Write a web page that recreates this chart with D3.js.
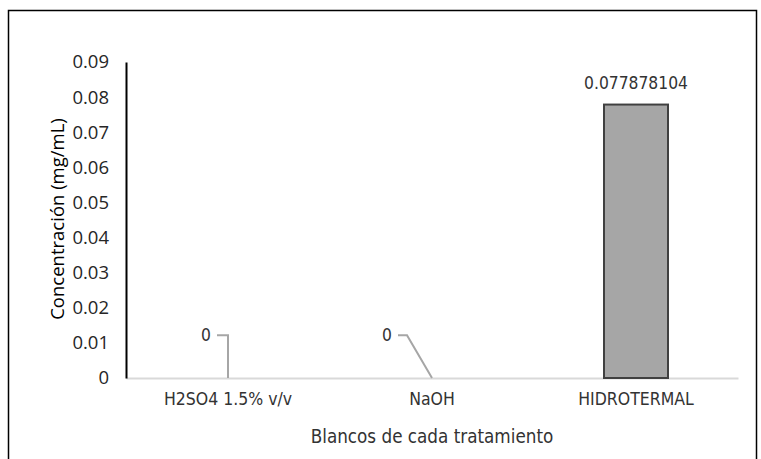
<!DOCTYPE html>
<html>
<head>
<meta charset="utf-8">
<script src="https://cdn.jsdelivr.net/npm/d3@7"></script>
<style>
body{margin:0;background:#fff}
</style>
</head>
<body>
<svg></svg>
<script>
const categories = ["H2SO4 1.5% v/v", "NaOH", "HIDROTERMAL"]
const values = [0, 0, 0.077878104]
const valueLabels = ["0", "0", "0.077878104"]
const yTicks = [0, 0.01, 0.02, 0.03, 0.04, 0.05, 0.06, 0.07, 0.08, 0.09]

const svgWidth = 761
const svgHeight = 459
const margins = {top:62, bottom:81, left:126, right:23}
const plotHeight = svgHeight - margins.top - margins.bottom
const plotWidth = svgWidth - margins.left - margins.right
const narrow = "'Liberation Sans Narrow','DejaVu Sans Condensed',sans-serif"

const svg = d3.select("svg")
.attr("width", svgWidth)
.attr("height", svgHeight)

// frame
svg.append("rect")
.attr("x",8.5).attr("y",10.5)
.attr("width",748).attr("height",460)
.attr("fill","none").attr("stroke","#000").attr("stroke-width",1.5)

const xScale = d3.scaleBand()
.domain(categories)
.range([0,plotWidth])

const yScale = d3.scaleLinear()
.domain([0,0.09])
.range([plotHeight,0])

const g = svg.append("g")
.attr("transform",`translate(${margins.left},${margins.top})`)

// x axis
const xAxis = g.append("g")
.attr("transform",`translate(0,${plotHeight})`)
.call(d3.axisBottom(xScale).tickSize(0).tickPadding(15))
xAxis.select(".domain").attr("stroke","#d9d9d9").attr("stroke-width",2)
xAxis.selectAll("text")
.attr("font-family",narrow).attr("font-size",17.5).attr("fill","#333")

// y axis
const yAxis = g.append("g")
.call(d3.axisLeft(yScale).tickValues(yTicks).tickSize(0).tickPadding(17)
  .tickFormat((d)=>{return d===0 ? "0" : d3.format(".2f")(d)}))
yAxis.select(".domain").attr("stroke","#000").attr("stroke-width",2)
yAxis.selectAll("text")
.attr("font-family","'Open Sans',sans-serif").attr("font-size",18.5).attr("fill","#262626")

// bars
g.selectAll("rect.bar")
.data(values)
.enter()
.append("rect")
.attr("class","bar")
.attr("x",(d,i)=>{return xScale(categories[i]) + xScale.bandwidth()/2 - 32})
.attr("y",(d)=>{return yScale(d)})
.attr("width",64)
.attr("height",(d)=>{return plotHeight - yScale(d)})
.attr("fill","#a6a6a6")
.attr("stroke","#404040")
.attr("stroke-width",2)
.style("display",(d)=>{return d>0 ? null : "none"})

// value labels
const labelOffsets = [{dx:-17},{dx:-40},{dx:0}]
valueLabels.forEach((lab,i)=>{
  const cx = xScale(categories[i]) + xScale.bandwidth()/2
  if (values[i] > 0){
    g.append("text")
    .attr("x",cx).attr("y",yScale(values[i]) - 16)
    .attr("text-anchor","middle")
    .attr("font-family",narrow).attr("font-size",17.3).attr("fill","#333")
    .text(lab)
  } else {
    // zero labels float with a leader line
    const ly = yScale(0.0122)
    const lx = cx + labelOffsets[i].dx
    g.append("text")
    .attr("x",lx).attr("y",ly + 6)
    .attr("text-anchor","end")
    .attr("font-family",narrow).attr("font-size",17.3).attr("fill","#333")
    .text(lab)
    const pts = i===0
      ? [[lx+6,ly],[cx,ly],[cx,yScale(0)]]
      : [[lx+6,ly],[lx+15,ly],[cx,yScale(0)]]
    g.append("path")
    .attr("d",d3.line()(pts))
    .attr("fill","none").attr("stroke","#a6a6a6").attr("stroke-width",2)
  }
})

// axis titles
svg.append("text")
.attr("transform",`translate(64,${margins.top+plotHeight/2 - 1}) rotate(-90)`)
.attr("text-anchor","middle")
.attr("font-family","'Open Sans',sans-serif").attr("font-size",18.5).attr("fill","#000")
.text("Concentración (mg/mL)")

svg.append("text")
.attr("x",432).attr("y",443)
.attr("text-anchor","middle")
.attr("font-family",narrow).attr("font-size",18.7).attr("fill","#333")
.text("Blancos de cada tratamiento")
</script>
</body>
</html>
